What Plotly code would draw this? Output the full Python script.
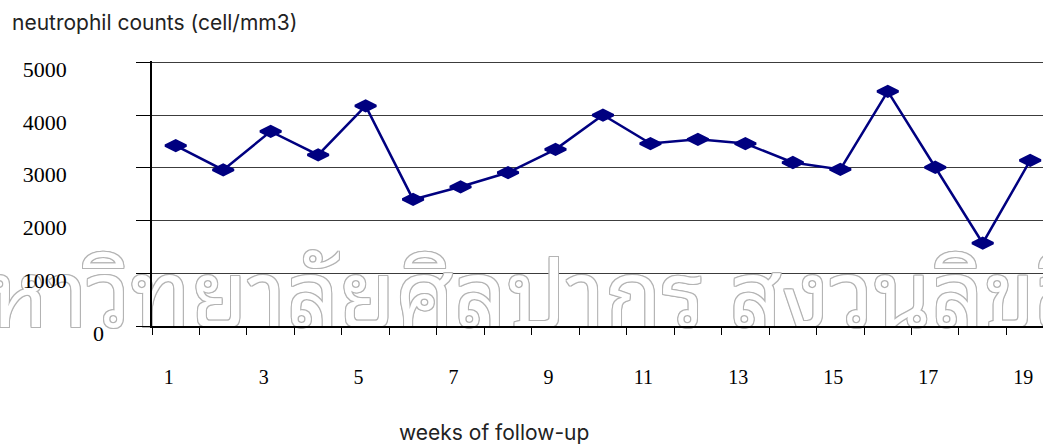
import plotly.graph_objects as go

# Weekly neutrophil counts during follow-up
weeks = list(range(1, 20))
neutrophils = [3420, 2960, 3690, 3245, 4175, 2400, 2640, 2910, 3350, 4000,
               3460, 3540, 3460, 3100, 2970, 4450, 3010, 1570, 3140]

x_tick_vals = list(range(1, 20, 2))
y_tick_vals = [0, 1000, 2000, 3000, 4000, 5000]
y_tick_text = ["", "1000", "2000", "3000", "4000", "5000"]

watermark = "มหาวิทยาลัยศิลปากร สงวนลิขสิทธิ์"

NAVY = "#000080"
SERIF = "Liberation Serif, Times New Roman, serif"
SANS = "Inter, Liberation Sans, Arial, sans-serif"

fig = go.Figure()

# Hollow-looking watermark drawn beneath the data line
outline = "#b4b4b4"
fig.add_trace(go.Scatter(
    x=[9.2], y=[410],
    mode="text",
    text=[watermark],
    textposition="middle center",
    cliponaxis=False,
    hoverinfo="skip",
    showlegend=False,
    textfont=dict(
        size=92, color="white",
        family="Noto Sans Thai Looped, Noto Serif Thai, Noto Sans Thai, sans-serif",
        shadow=(f"1px 0 0 {outline}, -1px 0 0 {outline}, 0 1px 0 {outline}, "
                f"0 -1px 0 {outline}, 1px 1px 0 {outline}, -1px -1px 0 {outline}, "
                f"1px -1px 0 {outline}, -1px 1px 0 {outline}"),
    ),
))

fig.add_trace(go.Scatter(
    x=weeks, y=neutrophils,
    mode="lines+markers",
    line=dict(color=NAVY, width=2.5),
    marker=dict(symbol="diamond-wide", size=15, color=NAVY,
                line=dict(color=NAVY, width=2.5)),
    showlegend=False,
))

fig.update_layout(
    width=1043, height=447,
    margin=dict(l=152, r=0, t=61, b=121),
    paper_bgcolor="white",
    plot_bgcolor="white",
    showlegend=False,
    xaxis=dict(
        range=[0.5, 19.27],
        tickmode="array",
        tickvals=x_tick_vals,
        ticks="",
        showgrid=False,
        zeroline=False,
        showline=True, linecolor="black", linewidth=1.5,
        minor=dict(tick0=0.5, dtick=1, ticks="outside", ticklen=7,
                   tickcolor="black", tickwidth=1, showgrid=False),
        tickfont=dict(family=SERIF, size=20, color="black"),
        ticklabelstandoff=32,
        ticklabelshift=-7,
    ),
    yaxis=dict(
        range=[0, 5025],
        tickmode="array",
        tickvals=y_tick_vals,
        ticktext=y_tick_text,
        ticks="outside", ticklen=14, tickcolor="black", tickwidth=1,
        showline=True, linecolor="black", linewidth=1.5,
        showgrid=True, gridcolor="#3c3c3c", gridwidth=1,
        zeroline=False,
        tickfont=dict(family=SERIF, size=22, color="black"),
        ticklabelstandoff=65,
        ticklabelshift=7,
    ),
    annotations=[
        dict(text="0", xref="paper", x=0, xshift=-46, xanchor="right",
             yref="y", y=0, yshift=-7, yanchor="middle", showarrow=False,
             font=dict(family=SERIF, size=22, color="black")),
        dict(text="neutrophil counts (cell/mm3)", xref="paper",
             x=(10 - 152) / 891, xanchor="left", yref="paper",
             y=(326 - 22) / 265, yanchor="middle", showarrow=False,
             font=dict(family=SANS, size=21, color="#222222")),
        dict(text="weeks of follow-up", xref="paper",
             x=(494 - 152) / 891, xanchor="center", yref="paper",
             y=(326 - 432) / 265, yanchor="middle", showarrow=False,
             font=dict(family=SANS, size=21, color="#222222")),
    ],
)

fig.write_html("out.html")
